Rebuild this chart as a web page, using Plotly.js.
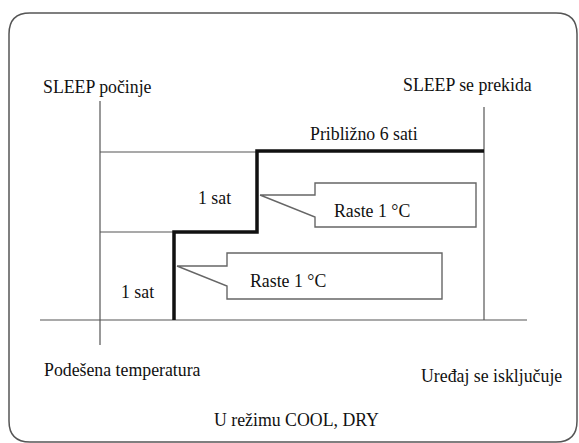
<!DOCTYPE html>
<html>
<head>
<meta charset="utf-8">
<script src="https://cdn.plot.ly/plotly-3.0.1.min.js"></script>
<style>html,body{margin:0;padding:0;background:#fff;}#chart{width:579px;height:443px;}</style>
</head>
<body>
<div id="chart"></div>
<script>
// Diagram coordinates (x: time axis units, y: level units, top-down)
var stepX = [174, 174, 257, 257, 484];
var stepY = [320, 232, 232, 151, 151];
var baseX = [40, 527];
var baseY = [320, 320];
var startLineX = [100, 100];
var startLineY = [101, 345];
var endLineX = [484, 484];
var endLineY = [107, 320];
var upperLevelX = [100, 257];
var upperLevelY = [152, 152];
var midLevelX = [100, 174];
var midLevelY = [232, 232];
var callout1X = [260, 315, 315, 476, 476, 315, 315, 260];
var callout1Y = [195, 195, 183, 183, 227, 227, 217, 195];
var callout2X = [177, 227, 227, 442, 442, 227, 227, 177];
var callout2Y = [266, 266, 253, 253, 299, 299, 286, 266];

var labels = [
  {t: "SLEEP počinje", x: 41, y: 87, a: "left"},
  {t: "SLEEP se prekida", x: 534, y: 85, a: "right"},
  {t: "Približno 6 sati", x: 364, y: 134, a: "center"},
  {t: "1 sat", x: 214, y: 198, a: "center"},
  {t: "1 sat", x: 137, y: 292, a: "center"},
  {t: "Raste 1 °C", x: 372, y: 211, a: "center"},
  {t: "Raste 1 °C", x: 288, y: 281, a: "center"},
  {t: "Podešena temperatura", x: 42, y: 370, a: "left"},
  {t: "Uređaj se isključuje", x: 564, y: 376, a: "right"},
  {t: "U režimu COOL, DRY", x: 296, y: 420, a: "center"}
];

var thin = {color: "#555", width: 1.2};
function ln(x, y, line, extra) {
  var o = {x: x, y: y, mode: "lines", line: line, hoverinfo: "skip", showlegend: false};
  for (var k in extra) o[k] = extra[k];
  return o;
}
var traces = [
  ln(baseX, baseY, thin),
  ln(startLineX, startLineY, thin),
  ln(endLineX, endLineY, thin),
  ln(upperLevelX, upperLevelY, thin),
  ln(midLevelX, midLevelY, thin),
  ln(callout1X, callout1Y, {color: "#666", width: 1.4}, {fill: "toself", fillcolor: "#fff"}),
  ln(callout2X, callout2Y, {color: "#666", width: 1.4}, {fill: "toself", fillcolor: "#fff"}),
  ln(stepX, stepY, {color: "#111", width: 3.5})
];

var annotations = labels.map(function (l) {
  return {x: l.x, y: l.y, xref: "x", yref: "y", text: l.t, showarrow: false,
    xanchor: l.a, yanchor: "middle",
    font: {family: "Liberation Serif", size: 17.8, color: "#111"}};
});

var layout = {
  width: 579, height: 443,
  margin: {l: 0, r: 0, t: 0, b: 0},
  paper_bgcolor: "#fff", plot_bgcolor: "#fff",
  xaxis: {range: [0, 579], visible: false, fixedrange: true},
  yaxis: {range: [443, 0], visible: false, fixedrange: true},
  showlegend: false,
  annotations: annotations,
  shapes: [{
    type: "path", xref: "x", yref: "y",
    path: "M 30 13 L 556 13 Q 577 13 577 34 L 577 421 Q 577 442 556 442 L 30 442 Q 9 442 9 421 L 9 34 Q 9 13 30 13 Z",
    line: {color: "#555", width: 1.5}
  }]
};

Plotly.newPlot("chart", traces, layout, {staticPlot: true, displayModeBar: false});
</script>
</body>
</html>
